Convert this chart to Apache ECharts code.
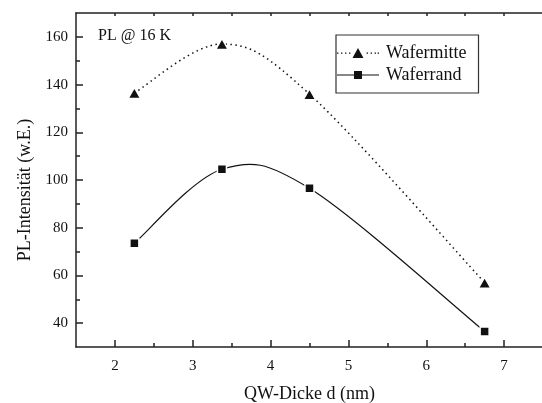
<!DOCTYPE html>
<html>
<head>
<meta charset="utf-8">
<script src="https://cdn.jsdelivr.net/npm/echarts@6/dist/echarts.min.js"></script>
<style>
  html, body { margin: 0; padding: 0; background: #fff; }
  #chart { width: 542px; height: 403px; }
</style>
</head>
<body>
<div id="chart"></div>
<script>
// QW thickness (nm) and PL intensity (arb. units)
const dicke = [2.25, 3.375, 4.5, 6.75]
const wafermitte = [136.5, 157, 136, 57]
const waferrand = [73.5, 104.5, 96.5, 36.5]

// tick positions
const xMajor = [2, 3, 4, 5, 6, 7]
const xMinor = [2.5, 3.5, 4.5, 5.5, 6.5]
const yMajor = [40, 60, 80, 100, 120, 140, 160]
const yMinor = [50, 70, 90, 110, 130, 150]

const font = 'Liberation Serif'
const ink = '#111'
const axisColor = '#222'

// legend icons: dotted line + triangle, solid line + square
const iconMitte = 'path://' +
  'M0 5.4h1.4v1.4h-1.4Z M4 5.4h1.4v1.4h-1.4Z M8 5.4h1.4v1.4h-1.4Z M12 5.4h1.4v1.4h-1.4Z ' +
  'M15.5 11L26.5 11L21 1Z ' +
  'M29.6 5.4h1.4v1.4h-1.4Z M33.6 5.4h1.4v1.4h-1.4Z M37.6 5.4h1.4v1.4h-1.4Z M40.6 5.4h1.4v1.4h-1.4Z'
const iconRand = 'path://M0 3.4h42v1.2h-42Z M17 0h8v8h-8Z'

const chart = echarts.init(document.getElementById('chart'), null, { renderer: 'canvas' })

function tickAxis(extra, ticks, len, showLine) {
  return {
    type: 'value',
    axisLine: { show: showLine, onZero: false, lineStyle: { color: axisColor, width: 1.5 } },
    axisTick: { show: true, inside: true, length: len, customValues: ticks, lineStyle: { color: axisColor, width: 1.5 } },
    axisLabel: { show: false },
    splitLine: { show: false },
    ...extra,
  }
}

// Catmull-Rom spline through the data points, drawn in pixel space
function splineItem(xs, ys, dash, width) {
  return (params, api) => {
    if (params.dataIndex !== 0) return
    const p = xs.map((x, i) => api.coord([x, ys[i]]))
    let d = `M${p[0][0]} ${p[0][1]}`
    for (let i = 0; i < p.length - 1; i++) {
      const p0 = p[Math.max(i - 1, 0)]
      const p1 = p[i]
      const p2 = p[i + 1]
      const p3 = p[Math.min(i + 2, p.length - 1)]
      const c1 = [p1[0] + (p2[0] - p0[0]) / 6, p1[1] + (p2[1] - p0[1]) / 6]
      const c2 = [p2[0] - (p3[0] - p1[0]) / 6, p2[1] - (p3[1] - p1[1]) / 6]
      d += ` C${c1[0]} ${c1[1]} ${c2[0]} ${c2[1]} ${p2[0]} ${p2[1]}`
    }
    return {
      type: 'path',
      shape: { pathData: d },
      style: { stroke: ink, fill: null, lineWidth: width, lineDash: dash },
    }
  }
}

const xRange = { min: 1.5, max: 7.5 }
const yRange = { min: 30, max: 170 }

const option = {
  animation: false,
  backgroundColor: '#fff',
  grid: { left: 76, top: 13, width: 467, height: 334, outerBoundsMode: 'none', containLabel: false },
  xAxis: [
    tickAxis({
      ...xRange,
      position: 'bottom',
      axisLabel: { show: true, customValues: xMajor, fontFamily: font, fontSize: 15, color: ink, margin: 12 },
      name: 'QW-Dicke d (nm)',
      nameLocation: 'middle',
      nameGap: 38,
      nameTextStyle: { fontFamily: font, fontSize: 18, color: ink },
    }, xMajor, 7, true),
    tickAxis({ ...xRange, position: 'bottom' }, xMinor, 4, false),
    tickAxis({ ...xRange, position: 'top' }, xMajor, 3, true),
    tickAxis({ ...xRange, position: 'top' }, xMinor, 3, false),
  ],
  yAxis: [
    tickAxis({
      ...yRange,
      position: 'left',
      axisLabel: { show: true, customValues: yMajor, fontFamily: font, fontSize: 15, color: ink, margin: 8 },
      name: 'PL-Intensität (w.E.)',
      nameLocation: 'middle',
      nameGap: 41,
      nameTextStyle: { fontFamily: font, fontSize: 18, color: ink, padding: [0, 20, 0, 0] },
    }, yMajor, 7, true),
    tickAxis({ ...yRange, position: 'left' }, yMinor, 4, false),
  ],
  legend: {
    left: 336,
    top: 35,
    orient: 'vertical',
    padding: [9, 12, 9, 1],
    itemGap: 4,
    itemWidth: 42,
    itemHeight: 14,
    borderColor: '#333',
    borderWidth: 1.2,
    itemStyle: { color: ink, borderWidth: 0 },
    lineStyle: { color: ink },
    textStyle: { fontFamily: font, fontSize: 18, color: ink, padding: [0, 0, 0, 2] },
    data: [
      { name: 'Wafermitte', icon: iconMitte },
      { name: 'Waferrand', icon: iconRand },
    ],
  },
  graphic: [
    {
      type: 'text',
      left: 98,
      top: 28,
      style: { text: 'PL @ 16 K', fontFamily: font, fontSize: 16, fill: ink },
    },
  ],
  series: [
    {
      name: 'Wafermitte',
      type: 'custom',
      z: 2,
      silent: true,
      itemStyle: { color: ink },
      renderItem: splineItem(dicke, wafermitte, [1.5, 3.5], 1.5),
      data: [[dicke[0], wafermitte[0]]],
    },
    {
      name: 'Waferrand',
      type: 'custom',
      z: 2,
      silent: true,
      itemStyle: { color: ink },
      renderItem: splineItem(dicke, waferrand, null, 1.2),
      data: [[dicke[0], waferrand[0]]],
    },
    {
      name: 'Wafermitte',
      type: 'scatter',
      z: 3,
      data: dicke.map((d, i) => [d, wafermitte[i]]),
      symbol: 'triangle',
      symbolSize: [12.5, 11],
      itemStyle: { color: ink, borderColor: '#fff', borderWidth: 1.5, opacity: 1 },
    },
    {
      name: 'Waferrand',
      type: 'scatter',
      z: 3,
      data: dicke.map((d, i) => [d, waferrand[i]]),
      symbol: 'rect',
      symbolSize: 9,
      itemStyle: { color: ink, borderColor: '#fff', borderWidth: 1.5, opacity: 1 },
    },
  ],
}

chart.setOption(option)
</script>
</body>
</html>
